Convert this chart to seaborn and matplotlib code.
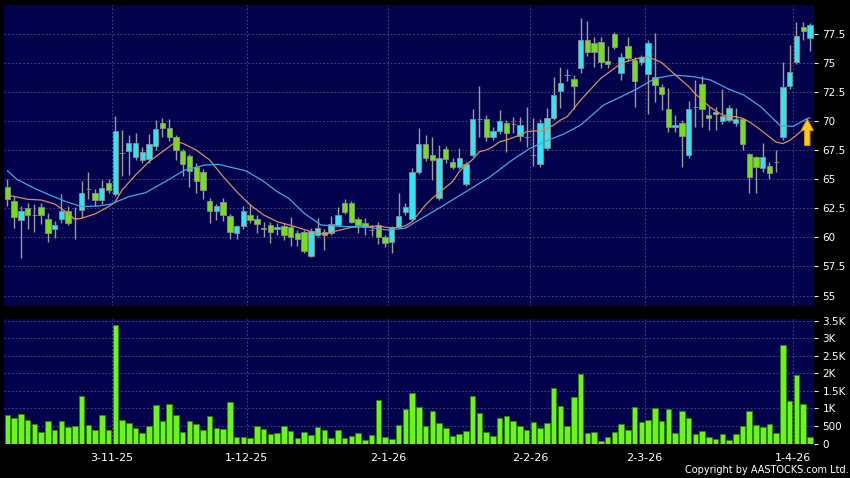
import numpy as np
import matplotlib
matplotlib.use("Agg")
import matplotlib.pyplot as plt
import matplotlib.patches as mpatches
import seaborn as sns

# daily candles, oldest first
opens = [64.36, 63.12, 61.46, 62.52, 61.9, 62.6, 61.6, 60.69, 61.55, 62.26,
         61.65, 62.32, 64.13, 63.84, 63.21, 64.7, 63.75, 67.3, 67.4, 66.95,
         66.65, 66.72, 67.87, 69.82, 69.38, 68.67, 67.46, 67.05, 66.03, 65.66,
         63.15, 62.3, 63.02, 61.85, 60.36, 60.96, 61.96, 61.62, 60.75, 61.08,
         60.72, 60.95, 60.93, 60.36, 60.43, 58.38, 60.22, 60.5, 60.36, 61.1,
         63.0, 63.0, 61.56, 61.28, 60.65, 61.05, 60.02, 59.57, 60.88, 62.15,
         61.56, 65.66, 68.03, 67.06, 63.37, 67.58, 66.52, 66.09, 64.6, 67.09,
         70.23, 70.18, 68.67, 69.2, 69.87, 69.78, 68.7, 68.64, 67.06, 66.32,
         67.67, 70.25, 72.62, 73.96, 73.6, 74.54, 76.98, 76.69, 76.84, 75.17,
         77.5, 74.17, 76.49, 75.26, 75.06, 74.06, 73.83, 72.97, 71.02, 69.47,
         69.82, 67.09, 71.19, 73.17, 70.53, 70.59, 70.04, 70.1, 69.82, 70.16,
         67.18, 66.89, 66.0, 66.17, 66.49, 68.61, 73.03, 75.06, 78.07, 77.13]
highs = [64.99, 63.55, 62.69, 62.98, 62.84, 62.98, 62.06, 61.4, 63.7, 62.7,
         62.65, 64.84, 65.62, 64.18, 64.93, 64.99, 70.45, 69.26, 68.8, 69.0,
         67.8, 68.9, 70.1, 70.25, 70.2, 68.8, 67.6, 67.2, 66.4, 65.9,
         63.4, 62.9, 63.37, 62.0, 61.1, 62.71, 62.85, 61.9, 61.3, 61.3,
         61.2, 61.2, 61.79, 60.6, 60.6, 60.8, 61.65, 60.7, 61.85, 62.65,
         63.3, 63.1, 61.8, 61.65, 61.05, 61.3, 60.2, 61.0, 63.82, 62.95,
         65.95, 69.39, 68.81, 68.67, 67.95, 67.9, 66.8, 67.7, 66.5, 71.02,
         73.02, 70.5, 69.5, 70.96, 70.1, 70.33, 70.4, 71.2, 70.24, 70.2,
         71.1, 73.83, 74.69, 74.5, 74.0, 78.84, 78.64, 77.27, 77.27, 76.5,
         77.7, 75.89, 77.27, 75.5, 75.69, 76.98, 77.56, 73.2, 72.83, 70.53,
         70.1, 71.77, 73.54, 73.88, 71.25, 71.25, 72.74, 71.39, 71.1, 70.3,
         67.3, 67.0, 68.15, 66.5, 67.52, 75.12, 76.55, 78.56, 78.56, 78.47]
lows = [62.69, 60.83, 58.25, 60.69, 60.46, 61.12, 59.6, 59.97, 61.26, 61.1,
        59.85, 61.66, 63.32, 62.69, 62.84, 63.84, 63.6, 65.25, 65.4, 66.7,
        66.4, 66.4, 67.5, 68.6, 68.3, 66.67, 65.3, 64.37, 63.8, 63.28,
        61.25, 61.5, 61.4, 59.84, 59.84, 60.7, 61.2, 60.4, 60.07, 59.55,
        60.2, 59.8, 59.27, 59.27, 58.64, 58.3, 60.0, 58.9, 60.2, 61.0,
        62.0, 61.2, 60.4, 60.2, 60.1, 59.4, 59.2, 58.64, 60.8, 61.9,
        61.4, 65.5, 66.6, 64.94, 63.2, 66.4, 65.9, 65.9, 64.4, 66.9,
        68.67, 68.3, 68.4, 68.9, 67.35, 69.0, 68.3, 67.8, 66.15, 66.1,
        67.5, 70.1, 71.1, 73.5, 71.05, 74.17, 75.6, 74.69, 74.54, 74.6,
        76.2, 73.54, 75.2, 71.19, 74.8, 70.62, 71.68, 70.96, 69.1, 69.1,
        66.03, 66.8, 69.53, 69.53, 69.24, 69.24, 69.8, 69.9, 69.6, 67.52,
        63.8, 63.8, 65.66, 65.0, 65.66, 68.4, 72.8, 74.9, 77.0, 76.0]
closes = [63.32, 61.78, 62.26, 61.89, 61.9, 61.89, 60.34, 61.09, 62.26, 61.26,
          61.65, 63.84, 64.13, 63.21, 64.27, 64.07, 69.2, 67.3, 68.12, 68.1,
          67.35, 68.07, 69.3, 69.39, 68.6, 67.52, 66.32, 65.7, 64.87, 64.08,
          62.3, 62.68, 61.94, 60.45, 60.96, 62.25, 61.53, 61.16, 60.82, 60.44,
          60.9, 60.21, 60.01, 59.88, 58.87, 60.55, 60.79, 60.25, 61.15, 61.92,
          62.22, 61.36, 61.08, 60.88, 60.65, 60.04, 59.56, 60.9, 61.85, 62.58,
          65.66, 68.03, 66.8, 66.63, 66.8, 66.72, 66.06, 66.8, 66.32, 70.19,
          70.23, 68.64, 69.2, 70.02, 68.96, 69.72, 69.7, 68.64, 67.06, 69.82,
          70.25, 72.25, 73.26, 73.96, 73.0, 76.95, 75.98, 75.98, 75.12, 74.92,
          76.41, 75.49, 75.4, 73.48, 75.49, 76.69, 73.11, 72.31, 69.47, 69.67,
          68.73, 71.02, 71.19, 71.02, 70.25, 70.82, 70.47, 71.1, 70.16, 68.04,
          65.17, 66.03, 66.89, 65.52, 66.49, 72.91, 74.26, 77.35, 77.78, 78.27]
volumes = [803, 737, 832, 680, 558, 321, 643, 378, 643, 473,
           501, 1361, 520, 387, 803, 378, 3364, 671, 586, 435,
           293, 510, 1106, 643, 1125, 803, 340, 643, 567, 387,
           775, 454, 406, 1172, 189, 189, 151, 501, 416, 274,
           302, 501, 359, 151, 321, 246, 463, 387, 161, 397,
           161, 217, 302, 104, 246, 1238, 189, 132, 529, 983,
           1436, 1049, 501, 926, 595, 444, 227, 284, 359, 1342,
           869, 321, 208, 728, 784, 643, 501, 387, 614, 435,
           586, 1578, 1068, 501, 1332, 1994, 293, 321, 85, 180,
           331, 548, 387, 1049, 605, 662, 1002, 643, 992, 293,
           917, 718, 274, 359, 189, 123, 274, 104, 284, 501,
           926, 539, 463, 548, 312, 2807, 1219, 1966, 1125, 189]

# moving averages (bar number, price)
ma_short_x = [0, 3, 5, 7, 9, 10, 11, 13, 15, 16, 17, 19, 21, 23, 25, 26, 28, 30,
              32, 34, 36, 38, 40, 43, 45, 47, 49, 51, 53, 55, 57, 59, 60, 61, 62,
              63, 64, 66, 67, 68, 69, 70, 71, 72, 73, 74, 76, 77, 78, 79, 80, 81,
              82, 83, 85, 88, 91, 93, 95, 97, 99, 101, 102, 103, 104, 105, 106,
              107, 108, 109, 110, 111, 112, 113, 114, 115, 116, 117, 118, 119]
ma_short_y = [63.65, 63.28, 63.22, 62.88, 62.08, 61.56, 61.65, 62.02, 62.65, 63.08,
              64.08, 65.37, 66.52, 67.38, 68.24, 68.1, 67.52, 66.66, 65.23, 63.94,
              62.79, 61.93, 61.36, 60.87, 60.5, 60.27, 60.59, 60.87, 60.93, 60.99,
              60.79, 60.99, 61.36, 62.08, 62.79, 63.37, 63.85, 64.8, 65.66, 66.23,
              66.72, 67.38, 67.52, 67.81, 68.24, 68.38, 68.81, 69.1, 69.16, 69.16,
              69.39, 69.67, 70.1, 70.39, 71.82, 73.7, 74.97, 75.35, 75.55, 75.05,
              74.0, 73.0, 72.35, 71.85, 71.3, 70.9, 70.55, 70.42, 70.38, 70.25,
              69.95, 69.55, 69.1, 68.65, 68.2, 68.08, 68.35, 68.8, 69.3, 69.7]
ma_long_x = [0, 1.4, 4, 6.3, 8.7, 11, 13.6, 15.4, 18, 20.5, 23.4, 26.3, 29.3, 31.3,
             35.3, 37.7, 40, 41.7, 44, 46.5, 49.9, 52.9, 56.3, 59, 60.6, 64.2, 67.6,
             71.6, 74.5, 77.5, 80.5, 82.5, 85, 88.4, 91, 93.5, 96, 98.8, 101.8,
             104.3, 106.7, 109.2, 111.7, 114.6, 116.5, 118.5, 119]
ma_long_y = [65.75, 65.0, 64.23, 63.65, 63.08, 62.65, 62.71, 62.88, 63.51, 63.85,
             64.8, 65.8, 66.23, 66.29, 65.74, 64.94, 63.94, 63.37, 62.08, 61.07,
             60.93, 60.93, 60.64, 60.79, 61.36, 62.59, 63.8, 65.23, 66.52, 67.67,
             68.44, 68.9, 69.67, 71.39, 72.11, 72.83, 73.68, 73.97, 73.83, 73.54,
             72.83, 72.25, 71.25, 69.62, 69.56, 70.2, 70.3]

date_ticks = [15.5, 35.5, 56.5, 77.5, 94.5, 116.5]
date_labels = ["3-11-25", "1-12-25", "2-1-26", "2-2-26", "2-3-26", "1-4-26"]
price_ticks = [55, 57.5, 60, 62.5, 65, 67.5, 70, 72.5, 75, 77.5]
price_labels = ["55", "57.5", "60", "62.5", "65", "67.5", "70", "72.5", "75", "77.5"]
vol_ticks = [0, 500, 1000, 1500, 2000, 2500, 3000, 3500]
vol_labels = ["0", "500", "1K", "1.5K", "2K", "2.5K", "3K", "3.5K"]

# colours
navy = "#02024c"
up_col = "#33e3ef"
down_col = "#74e01c"
flat_col = "#b4b4b4"
vol_col = "#6cf51a"

sns.set_style("dark", {"axes.facecolor": navy, "figure.facecolor": "black"})
plt.rcParams["font.family"] = ["DejaVu Sans"]

W, H = 850, 478
fig = plt.figure(figsize=(W / 100, H / 100), dpi=100, facecolor="black")
ax = fig.add_axes([4 / W, 1 - 306 / H, 810 / W, 301 / H])
axv = fig.add_axes([4 / W, 1 - 443.5 / H, 810 / W, 124.2 / H])

idx = np.arange(len(opens))
o = np.array(opens)
c = np.array(closes)
col = np.where(c > o, up_col, np.where(c < o, down_col, flat_col))

# price panel
ax.vlines(idx, lows, highs, color="#9a9a9a", lw=1.0, zorder=2)
ax.bar(idx, np.abs(c - o), bottom=np.minimum(o, c), width=0.8, color=col,
       edgecolor="#8c8c8c", linewidth=0.6, zorder=3)
sns.lineplot(x=ma_short_x, y=ma_short_y, ax=ax, color="#dc8a5e", lw=0.9, zorder=4)
sns.lineplot(x=ma_long_x, y=ma_long_y, ax=ax, color="#3fa9e8", lw=0.9, zorder=4)

# yellow up arrow at the right edge
ax.add_patch(mpatches.FancyArrow(118.6, 67.9, 0, 2.3, width=0.8, head_width=1.8,
                                 head_length=1.0, length_includes_head=True,
                                 facecolor="#ffcc1f", edgecolor="#d98c00", lw=0.8,
                                 zorder=6))

ax.set_xlim(-0.5, 119.6)
ax.set_ylim(54.1, 80.0)
ax.set_yticks(price_ticks)
ax.set_yticklabels(price_labels)
ax.set_xticks(date_ticks)
ax.set_xticklabels([])

# volume panel
sns.barplot(x=idx, y=volumes, ax=axv, native_scale=True, width=0.82, color=vol_col,
            saturation=1, edgecolor="#2f7f08", linewidth=0.6, errorbar=None, zorder=3)
axv.set_xlim(-0.5, 119.6)
axv.set_ylim(0, 3540)
axv.set_yticks(vol_ticks)
axv.set_yticklabels(vol_labels)
axv.set_xticks(date_ticks)
axv.set_xticklabels(date_labels)
axv.set_xlabel("")
axv.set_ylabel("")

for a in (ax, axv):
    a.set_facecolor(navy)
    a.yaxis.tick_right()
    a.grid(True, color="#50508a", ls=(0, (2, 2.5)), lw=0.6)
    a.set_axisbelow(True)
    for s in a.spines.values():
        s.set_visible(False)
    a.tick_params(axis="y", colors="#e8e8e8", labelcolor="white", length=3,
                  width=0.8, pad=3, labelsize=7.5, right=True, left=False)

ax.tick_params(axis="x", length=0)
axv.tick_params(axis="x", colors="#d0d0d0", labelcolor="white", length=3,
                width=0.8, pad=4, labelsize=8)

fig.text(0.998, 1 - 470 / H, "Copyright by AASTOCKS.com Ltd.", ha="right",
         va="center", color="white", fontsize=7)

fig.savefig("out.png", dpi=100, facecolor="black")
